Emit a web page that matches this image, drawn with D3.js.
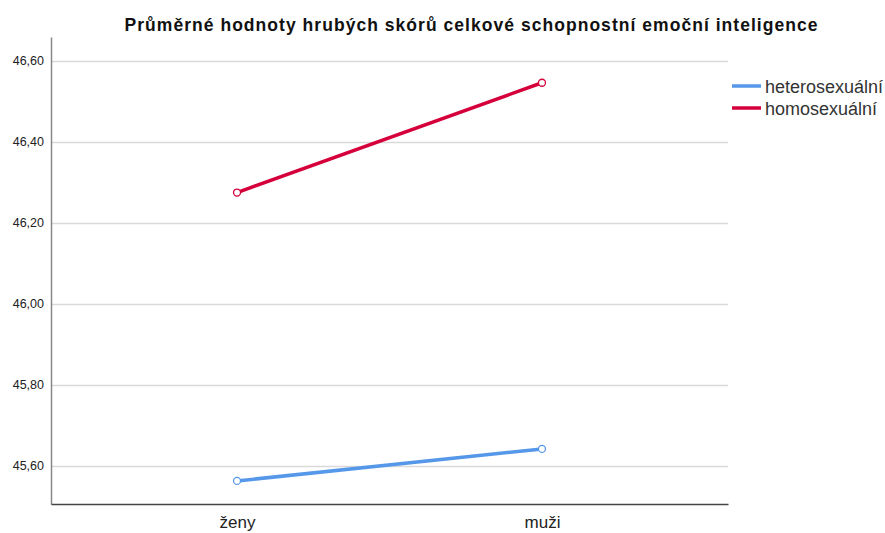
<!DOCTYPE html>
<html>
<head>
<meta charset="utf-8">
<script src="https://cdn.jsdelivr.net/npm/d3@7"></script>
<style>
  body { margin: 0; background: #fff; }
  text { font-family: Arial, "Liberation Sans", sans-serif; }
</style>
</head>
<body>
<div id="chart"></div>
<script>
// data
var categories = ["ženy", "muži"];
var seriesNames = ["heterosexuální", "homosexuální"];
var hetero = [45.563, 45.642];
var homo = [46.275, 46.546];
var yTicks = [45.6, 45.8, 46.0, 46.2, 46.4, 46.6];
var colors = ["#5597e8", "#d5003b"];

var W = 885, H = 533;
var margin = { top: 37, right: 157, bottom: 29, left: 51 },
    width = W - margin.left - margin.right,
    height = H - margin.top - margin.bottom;

var svg = d3.select("#chart")
    .append("svg")
    .attr("width", W)
    .attr("height", H);

var g = svg.append("g")
    .attr("transform", "translate(" + margin.left + "," + margin.top + ")");

var x = d3.scalePoint()
    .domain(categories)
    .range([0, width])
    .padding(0.61);

var y = d3.scaleLinear()
    .domain([45.506, 46.659])
    .range([height, 0]);

// grid lines
g.append("g")
    .selectAll("line")
    .data(yTicks)
    .enter().append("line")
    .attr("x1", 0)
    .attr("x2", width)
    .attr("y1", function (d) { return Math.round(y(d)) + 0.5; })
    .attr("y2", function (d) { return Math.round(y(d)) + 0.5; })
    .attr("stroke", "#d9d9d9")
    .attr("stroke-width", 1.5);

// y axis
var yAxis = g.append("g")
    .call(d3.axisLeft(y).tickValues(yTicks).tickSize(0).tickPadding(7)
        .tickFormat(function (d) { return d3.format(".2f")(d).replace(".", ","); }));
yAxis.select(".domain").attr("stroke", "#888").attr("stroke-width", 1.5);
yAxis.selectAll("text").attr("font-size", "12.5px").attr("fill", "#222")
    .style("font-family", "Arial, 'Liberation Sans', sans-serif");

// x axis
var xAxis = g.append("g")
    .attr("transform", "translate(0," + height + ")")
    .call(d3.axisBottom(x).tickSize(0).tickPadding(12));
xAxis.select(".domain").attr("stroke", "#444").attr("stroke-width", 1.5);
xAxis.selectAll("text").attr("font-size", "17px").attr("fill", "#222")
    .style("font-family", "Arial, 'Liberation Sans', sans-serif");

// lines + markers
var series = [hetero, homo];
var line = d3.line()
    .x(function (d, i) { return x(categories[i]); })
    .y(function (d) { return y(d); });

series.forEach(function (vals, s) {
    g.append("path")
        .datum(vals)
        .attr("d", line)
        .attr("fill", "none")
        .attr("stroke", colors[s])
        .attr("stroke-width", 3.5);

    g.selectAll(".pt" + s)
        .data(vals)
        .enter().append("circle")
        .attr("cx", function (d, i) { return x(categories[i]); })
        .attr("cy", function (d) { return y(d); })
        .attr("r", 3.5)
        .attr("fill", "#fff")
        .attr("stroke", colors[s])
        .attr("stroke-width", 1.3);
});

// title
svg.append("text")
    .attr("x", 471)
    .attr("y", 31)
    .attr("text-anchor", "middle")
    .attr("font-size", "17.5px")
    .attr("font-weight", "bold")
    .attr("fill", "#111")
    .attr("textLength", 693)
    .attr("lengthAdjust", "spacing")
    .text("Průměrné hodnoty hrubých skórů celkové schopnostní emoční inteligence");

// legend
var legend = svg.append("g")
    .attr("transform", "translate(732,86)");
seriesNames.forEach(function (name, i) {
    var row = legend.append("g").attr("transform", "translate(0," + (i * 22) + ")");
    row.append("line")
        .attr("x1", 0).attr("x2", 29)
        .attr("y1", 0).attr("y2", 0)
        .attr("stroke", colors[i])
        .attr("stroke-width", 3.5);
    row.append("text")
        .attr("x", 33)
        .attr("y", 6.5)
        .attr("font-size", "18px")
        .attr("fill", "#333")
        .text(name);
});
</script>
</body>
</html>
